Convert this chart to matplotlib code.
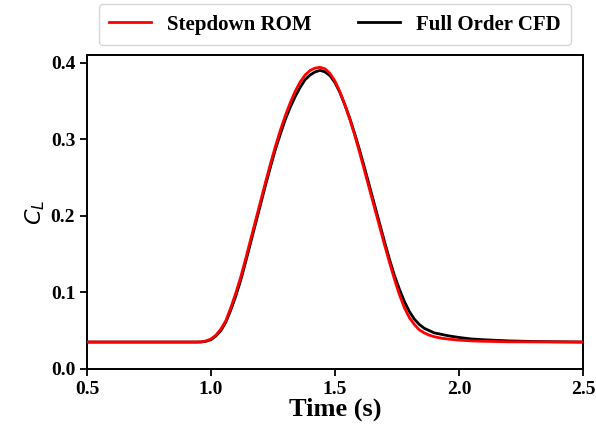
import matplotlib
matplotlib.use("Agg")
from matplotlib import pyplot as plt

plt.rcParams["font.family"] = ["Liberation Serif", "DejaVu Serif"]
plt.rcParams["mathtext.fontset"] = "dejavusans"

# values
t_rom = [0.50, 0.80, 0.94, 0.96, 0.98, 1.00, 1.02, 1.04, 1.06, 1.08, 1.10,
         1.12, 1.14, 1.16, 1.18, 1.20, 1.22, 1.24, 1.26, 1.28, 1.30, 1.32,
         1.34, 1.36, 1.38, 1.40, 1.42, 1.44, 1.46, 1.48, 1.50, 1.52, 1.54,
         1.56, 1.58, 1.60, 1.62, 1.64, 1.66, 1.68, 1.70, 1.72, 1.74, 1.76,
         1.78, 1.80, 1.82, 1.84, 1.86, 1.88, 1.90, 1.93, 1.96, 2.00, 2.05,
         2.10, 2.20, 2.50]
cl_rom = [0.035, 0.035, 0.035, 0.0352, 0.0365, 0.039, 0.044, 0.052, 0.063,
          0.080, 0.099, 0.120, 0.144, 0.169, 0.194, 0.219, 0.244, 0.268,
          0.291, 0.312, 0.331, 0.348, 0.363, 0.375, 0.384, 0.390, 0.393,
          0.394, 0.392, 0.386, 0.376, 0.362, 0.345, 0.326, 0.305, 0.282,
          0.258, 0.234, 0.210, 0.186, 0.162, 0.139, 0.117, 0.097, 0.080,
          0.067, 0.058, 0.051, 0.047, 0.044, 0.042, 0.040, 0.0388, 0.0375,
          0.0365, 0.036, 0.0353, 0.035]

t_cfd = [0.50, 0.80, 0.94, 0.96, 0.98, 1.00, 1.02, 1.04, 1.06, 1.08, 1.10,
         1.12, 1.14, 1.16, 1.18, 1.20, 1.22, 1.24, 1.26, 1.28, 1.30, 1.32,
         1.34, 1.36, 1.38, 1.40, 1.42, 1.44, 1.46, 1.48, 1.50, 1.52, 1.54,
         1.56, 1.58, 1.60, 1.62, 1.64, 1.66, 1.68, 1.70, 1.72, 1.74, 1.76,
         1.78, 1.80, 1.82, 1.84, 1.86, 1.88, 1.90, 1.93, 1.96, 2.00, 2.05,
         2.10, 2.20, 2.30, 2.50]
cl_cfd = [0.035, 0.035, 0.035, 0.0351, 0.036, 0.038, 0.043, 0.050, 0.061,
          0.077, 0.095, 0.116, 0.140, 0.165, 0.190, 0.215, 0.240, 0.264,
          0.287, 0.307, 0.326, 0.342, 0.356, 0.368, 0.378, 0.384, 0.388,
          0.390, 0.388, 0.383, 0.374, 0.361, 0.345, 0.327, 0.307, 0.285,
          0.262, 0.238, 0.214, 0.190, 0.166, 0.143, 0.122, 0.104, 0.088,
          0.075, 0.065, 0.058, 0.053, 0.050, 0.047, 0.045, 0.043, 0.041,
          0.039, 0.038, 0.0365, 0.0357, 0.035]

fig = plt.figure(figsize=(5.96, 4.37), dpi=100)
ax = fig.add_axes([0.146, 0.156, 0.832, 0.718])

ax.plot(t_cfd, cl_cfd, c="black", lw=2.0, label="Full Order CFD", zorder=2)
ax.plot(t_rom, cl_rom, c="red", lw=2.0, label="Stepdown ROM", zorder=3)

ax.set_xlim(0.5, 2.5)
ax.set_ylim(0.0, 0.41)
ax.set_xticks([0.5, 1.0, 1.5, 2.0, 2.5])
ax.set_yticks([0.0, 0.1, 0.2, 0.3, 0.4])
ax.tick_params(labelsize=14, width=1.3, length=5)
for lab in ax.get_xticklabels() + ax.get_yticklabels():
    lab.set_fontweight("bold")
for s in ax.spines.values():
    s.set_linewidth(1.4)

ax.set_xlabel("Time (s)", fontsize=19, fontweight="bold", labelpad=0)
ax.set_ylabel("$C_L$", fontsize=16, labelpad=3)

h, l = ax.get_legend_handles_labels()
ax.legend(h[::-1], l[::-1], ncol=2, loc="lower center",
          bbox_to_anchor=(0.5, 1.032), columnspacing=2.2,
          prop={"size": 15, "weight": "bold"},
          borderpad=0.5, borderaxespad=0)

fig.savefig("out.png", dpi=100)
